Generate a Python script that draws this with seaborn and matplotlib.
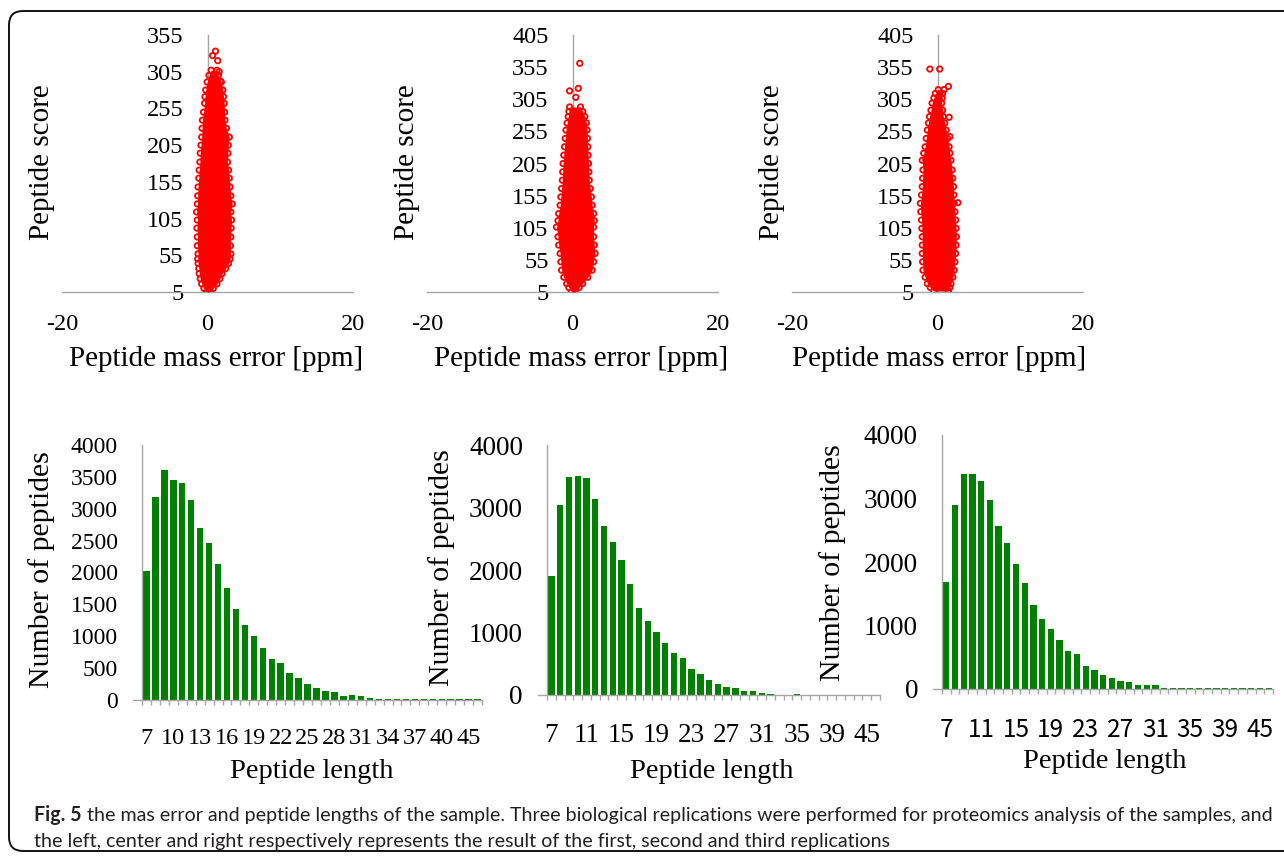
import matplotlib
matplotlib.use('Agg')
import numpy as np
import pandas as pd
import matplotlib.pyplot as plt
import seaborn as sns
from matplotlib.patches import FancyBboxPatch
from matplotlib.transforms import IdentityTransform

sns.set_theme(style='white')
plt.rcParams['font.family'] = ['Liberation Serif', 'DejaVu Serif']
plt.rcParams['axes.unicode_minus'] = False

# ---------------- data: mass error scatter (edge of dense cloud + outliers) ----------------
score_ticks_a = [5, 55, 105, 155, 205, 255, 305, 355]
score_ticks_b = [5, 55, 105, 155, 205, 255, 305, 355, 405]
err_ticks = [-20, 0, 20]

env1_score = [5, 10, 16, 23, 30, 37, 44, 50, 57, 68, 80, 92, 103, 114, 125, 136, 148, 160,
              171, 182, 194, 205, 216, 228, 239, 250, 262, 271, 280, 291, 300, 307]
env1_left = [-0.1, -0.5, -0.8, -1.0, -1.15, -1.2, -1.3, -1.35, -1.3, -1.4, -1.4, -1.45, -1.4,
             -1.5, -1.4, -1.35, -1.3, -1.2, -1.15, -1.05, -1.0, -0.9, -0.8, -0.75, -0.7, -0.55,
             -0.4, -0.35, -0.25, -0.05, 0.2, 0.5]
env1_right = [0.3, 0.8, 1.3, 1.7, 2.0, 2.5, 2.9, 3.1, 3.2, 3.15, 3.2, 3.25, 3.3, 3.2, 3.4, 3.2,
              3.1, 3.0, 2.9, 2.75, 2.8, 2.85, 3.0, 2.6, 2.4, 2.35, 2.3, 2.2, 2.1, 1.9, 1.5, 1.3]
out1_err = [1.1, 0.7, 1.4, 1.6, 1.8]
out1_score = [333, 327, 320, 305, 292]

env2_score = [5, 12, 18, 28, 39, 52, 65, 78, 91, 106, 116, 127, 140, 153, 166, 179, 192, 205,
              218, 231, 244, 257, 268, 278, 286, 293]
env2_left = [-0.15, -0.5, -0.8, -1.2, -1.5, -1.6, -1.7, -1.9, -2.0, -2.2, -2.0, -1.9, -1.7,
             -1.6, -1.5, -1.4, -1.35, -1.3, -1.2, -1.1, -1.0, -0.9, -0.75, -0.6, -0.5, -0.4]
env2_right = [0.4, 0.9, 1.4, 2.1, 2.7, 2.9, 3.1, 3.0, 2.9, 2.9, 3.0, 2.9, 2.7, 2.6, 2.45, 2.3,
              2.25, 2.2, 2.15, 2.1, 2.05, 2.0, 1.9, 1.7, 1.4, 1.1]
out2_err = [1.0, -0.4, 0.8, 0.45]
out2_score = [361, 318, 322, 308]

env3_score = [6.5, 12, 18, 28, 39, 52, 65, 78, 91, 104, 117, 130, 143, 156, 169, 182, 195, 210,
              221, 231, 244, 257, 268, 278, 288, 299, 307, 314, 320]
env3_left = [-0.5, -1.0, -1.4, -1.7, -2.0, -2.05, -2.1, -2.1, -2.1, -2.15, -2.2, -2.3, -2.35,
             -2.2, -2.1, -2.05, -2.0, -2.1, -1.9, -1.7, -1.55, -1.4, -1.25, -1.1, -0.9, -0.75,
             -0.5, -0.3, 0.1]
env3_right = [1.5, 1.7, 1.85, 2.1, 2.3, 2.4, 2.5, 2.55, 2.6, 2.55, 2.5, 2.4, 2.3, 2.25, 2.2, 2.1,
              2.0, 1.85, 1.7, 1.6, 1.4, 1.2, 1.0, 0.8, 0.7, 0.57, 0.65, 0.7, 0.9]
out3_err = [-1.05, 0.3, 1.5, 1.6, 1.7, 2.8, -1.6]
out3_score = [352, 352, 325, 277, 247, 144, 211]

# ---------------- data: peptide length distributions ----------------
lengths = ['7', '8', '9', '10', '11', '12', '13', '14', '15', '16', '17', '18', '19', '20',
           '21', '22', '23', '24', '25', '26', '27', '28', '29', '30', '31', '32', '33', '34',
           '35', '36', '37', '38', '39', '40', '41', '42', '45', '46']
counts_rep1 = [2020, 3190, 3610, 3450, 3410, 3130, 2700, 2460, 2130, 1760, 1430, 1170, 1010, 820,
               650, 580, 430, 345, 255, 190, 145, 122, 60, 84, 58, 38, 18, 10,
               10, 10, 10, 10, 10, 10, 10, 10, 10, 10]
counts_rep2 = [1910, 3045, 3485, 3505, 3465, 3130, 2710, 2445, 2160, 1780, 1400, 1180, 1005, 828,
               668, 588, 412, 336, 245, 176, 134, 110, 68, 60, 40, 22, 5, 0,
               20, 0, 0, 0, 0, 0, 0, 0, 0, 0]
counts_rep3 = [1685, 2905, 3390, 3390, 3280, 2975, 2560, 2295, 1965, 1665, 1315, 1095, 945, 770,
               598, 550, 356, 300, 220, 175, 130, 105, 65, 62, 62, 15, 15, 15,
               15, 15, 15, 15, 15, 15, 15, 15, 15, 15]

# ---------------- figure ----------------
W, H = 1284, 858
fig = plt.figure(figsize=(W / 100, H / 100), dpi=100)
fig.patch.set_facecolor('white')
GRAY = '#a6a6a6'
RED = '#ff0000'
GREEN = '#008000'
PT = 0.72  # points per pixel at 100 dpi


def px_axes(x0, x1, ytop, ybot):
    return fig.add_axes([x0 / W, 1 - ybot / H, (x1 - x0) / W, (ybot - ytop) / H])


def ftext(x, y, s, **kw):
    return fig.text(x / W, 1 - y / H, s, **kw)


# ---- top row: scatter ----
top = [
    dict(x0=62, x1=353, ymax=355, ticks=score_ticks_a, env=(env1_score, env1_left, env1_right),
         out=(out1_err, out1_score), ylab_x=42, xlab_x=216),
    dict(x0=427, x1=718, ymax=405, ticks=score_ticks_b, env=(env2_score, env2_left, env2_right),
         out=(out2_err, out2_score), ylab_x=407, xlab_x=581),
    dict(x0=792, x1=1083, ymax=405, ticks=score_ticks_b, env=(env3_score, env3_left, env3_right),
         out=(out3_err, out3_score), ylab_x=772, xlab_x=939),
]

for p in top:
    ax = px_axes(p['x0'], p['x1'], 35, 292)
    es, el, er = p['env']
    ax.fill_betweenx(es, el, er, color=RED, lw=0, zorder=3)
    edge_df = pd.DataFrame({'err': el + er + p['out'][0], 'score': es + es + p['out'][1]})
    sns.scatterplot(data=edge_df, x='err', y='score', ax=ax, marker='o', s=15,
                    facecolor='none', edgecolor=RED, linewidth=1.3, zorder=4)
    ax.set_xlim(-20, 20)
    ax.set_ylim(5, p['ymax'])
    ax.set_xticks(err_ticks)
    ax.set_yticks(p['ticks'])
    ax.set_facecolor('none')
    for s in ['top', 'right']:
        ax.spines[s].set_visible(False)
    ax.spines['left'].set_position(('data', 0))
    for s in ['left', 'bottom']:
        ax.spines[s].set_color(GRAY)
        ax.spines[s].set_linewidth(1.0)
    ax.tick_params(axis='y', direction='out', length=4 * PT, width=1, color=GRAY,
                   labelsize=17.5, pad=20 * PT, labelcolor='black')
    ax.tick_params(axis='x', direction='in', length=5 * PT, width=1, color=GRAY,
                   labelsize=17.5, pad=22 * PT, labelcolor='black')
    ax.set_xlabel('')
    ax.set_ylabel('')
    ftext(p['ylab_x'], 162, 'Peptide score', rotation=90, ha='center', va='center',
          fontsize=21, color='black')
    ftext(p['xlab_x'], 359, 'Peptide mass error [ppm]', ha='center', va='center',
          fontsize=21, color='black')

# ---- bottom row: bars ----
bottom = [
    dict(y_axis=142, x1=482, y0=700, y4=445, counts=counts_rep1, ystep=500, step=3,
         ytick_size=17, xtick_size=17.5, xtick_font=None, ylab=(42, 570), xlab=(312, 772)),
    dict(y_axis=547, x1=880, y0=695, y4=445, counts=counts_rep2, ystep=1000, step=4,
         ytick_size=19.5, xtick_size=19.5, xtick_font=None, ylab=(442, 568), xlab=(712, 771)),
    dict(y_axis=942, x1=1273, y0=689, y4=435, counts=counts_rep3, ystep=1000, step=4,
         ytick_size=19.5, xtick_size=17.5, xtick_font=['Noto Sans CJK SC', 'DejaVu Sans'],
         ylab=(833, 563), xlab=(1105, 762)),
]

n = len(lengths)
for p in bottom:
    pitch = (p['x1'] - p['y_axis']) / n
    ax = px_axes(p['y_axis'] - pitch, p['x1'], p['y4'], p['y0'])
    df = pd.DataFrame({'length': lengths, 'count': p['counts']})
    sns.barplot(data=df, x='length', y='count', order=lengths, color=GREEN, saturation=1,
                width=0.72, ax=ax, linewidth=0, zorder=2)
    ax.set_xlim(-1.5, n - 0.5)
    ax.set_ylim(0, 4000)
    ax.set_facecolor('none')
    for s in ['top', 'right']:
        ax.spines[s].set_visible(False)
    ax.spines['left'].set_position(('data', -0.5))
    for s in ['left', 'bottom']:
        ax.spines[s].set_color(GRAY)
        ax.spines[s].set_linewidth(1.0)
    ax.set_yticks(list(range(0, 4001, p['ystep'])))
    idx = list(range(0, n, p['step']))
    ax.set_xticks(idx)
    ax.set_xticklabels([lengths[i] for i in idx])
    ax.set_xticks([i - 0.5 for i in range(n + 1)], minor=True)
    ax.tick_params(axis='x', which='major', length=0, labelsize=p['xtick_size'],
                   pad=28 * PT, labelcolor='black')
    ax.tick_params(axis='x', which='minor', direction='out', length=5 * PT, width=1,
                   color=GRAY, bottom=True)
    ax.tick_params(axis='y', length=0, labelsize=p['ytick_size'], pad=24 * PT,
                   labelcolor='black')
    if p['xtick_font'] is not None:
        for t in ax.get_xticklabels():
            t.set_family(p['xtick_font'])
    ax.set_xlabel('')
    ax.set_ylabel('')
    ftext(p['ylab'][0], p['ylab'][1], 'Number of peptides', rotation=90, ha='center',
          va='center', fontsize=21.5, color='black')
    ftext(p['xlab'][0], p['xlab'][1], 'Peptide length', ha='center', va='center',
          fontsize=20.5, color='black')

# ---- frame ----
frame = FancyBboxPatch((9, H - 851), 1320, 840, boxstyle='round,pad=0,rounding_size=14',
                       transform=IdentityTransform(), fill=False, edgecolor='#111111',
                       linewidth=1.4)
fig.add_artist(frame)

# ---- caption ----
cap_font = ['Lato', 'DejaVu Sans']
line1_rest = (' the mas error and peptide lengths of the sample. Three biological replications were '
              'performed for proteomics analysis of the samples, and')
line2 = 'the left, center and right respectively represents the result of the first, second and third replications'
fs = 14.1
renderer = fig.canvas.get_renderer()
t_fig = ftext(34, 815, 'Fig. 5', fontsize=fs, fontweight='bold', family=cap_font,
              color='#231f20', va='center', ha='left')
bb = t_fig.get_window_extent(renderer)
t_rest = fig.text(bb.x1 / W, 1 - 815 / H, line1_rest, fontsize=fs, family=cap_font,
                  color='#231f20', va='center', ha='left')
ftext(34, 841, line2, fontsize=fs, family=cap_font, color='#231f20', va='center', ha='left')

fig.savefig('out.png', dpi=100)
